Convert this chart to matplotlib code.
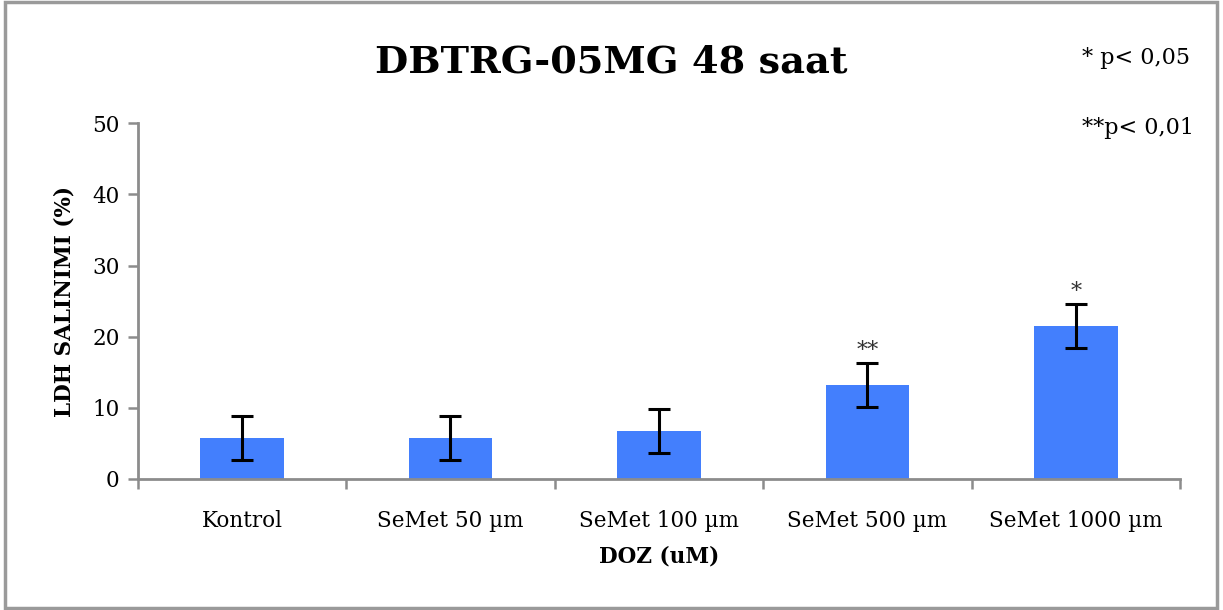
import numpy as np
import matplotlib.pyplot as plt
from matplotlib.patches import Rectangle

categories = ["Kontrol", "SeMet 50 µm", "SeMet 100 µm", "SeMet 500 µm", "SeMet 1000 µm"]
values = [5.8, 5.8, 6.7, 13.2, 21.5]
errors = [3.1, 3.1, 3.1, 3.1, 3.1]
signif = ["", "", "", "**", "*"]

plt.rcParams["font.family"] = ["DejaVu Serif"]

fig = plt.figure(figsize=(12.23, 6.10), dpi=100)

# grey frame around the whole chart
fig.patches.append(
    Rectangle((0.004, 0.004), 0.991, 0.992, transform=fig.transFigure,
              fill=False, edgecolor="#9a9a9a", linewidth=2.5)
)

ax = fig.add_axes([0.1126, 0.2148, 0.8524, 0.5832])

x = np.arange(len(categories))

ax.bar(x, values, width=0.4, color="#437ffd", zorder=2)

ax.errorbar(
    x, values, yerr=errors,
    fmt="none", ecolor="black", elinewidth=2.2,
    capsize=8, capthick=2.2, zorder=3
)

for xi, v, e, s in zip(x, values, errors, signif):
    if s:
        ax.text(xi, v + e + 0.1, s, ha="center", va="bottom",
                fontsize=16, color="#333333")

ax.set_xlim(-0.5, len(categories) - 0.5)
ax.set_ylim(0, 50)
ax.set_yticks([0, 10, 20, 30, 40, 50])

ax.set_xticks(x)
ax.set_xticklabels(categories, fontsize=15.5)
ax.tick_params(axis="x", length=0, pad=22)
ax.set_xticks(np.arange(-0.5, len(categories)), minor=True)
ax.tick_params(axis="x", which="minor", length=7, width=1.8, color="#8c8c8c",
               direction="out")
ax.tick_params(axis="y", labelsize=15.5, length=7, width=1.8, color="#8c8c8c",
               direction="out", pad=6)

for side in ["top", "right"]:
    ax.spines[side].set_visible(False)
for side in ["left", "bottom"]:
    ax.spines[side].set_color("#8c8c8c")
    ax.spines[side].set_linewidth(2)

ax.set_ylabel("LDH SALINIMI (%)", fontsize=15.5, fontweight="bold", labelpad=12)
ax.set_xlabel("DOZ (uM)", fontsize=15.5, fontweight="bold", labelpad=10)

fig.text(0.5, 0.898, "DBTRG-05MG 48 saat", ha="center", va="center",
         fontsize=27.5, fontweight="bold")

fig.text(0.885, 0.905, "* p< 0,05", ha="left", va="center", fontsize=16)
fig.text(0.885, 0.79, "**p< 0,01", ha="left", va="center", fontsize=16)

plt.savefig("out.png", dpi=100)
